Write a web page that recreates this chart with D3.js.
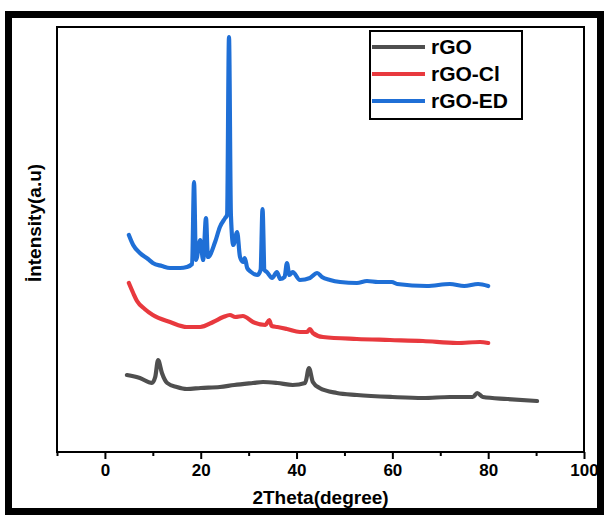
<!DOCTYPE html>
<html lang="en">
<head>
<meta charset="utf-8">
<script src="https://cdn.jsdelivr.net/npm/d3@7"></script>
<style>
  body { margin: 0; background: #fff; }
  text { font-family: "Liberation Sans", Arial, sans-serif; font-weight: bold; }
</style>
</head>
<body>
<svg id="chart" width="608" height="515"></svg>
<script>
"use strict";

// 2theta (degree), intensity (a.u.)
const rGO = [[4.6,77],[7.3,74],[9.8,69],[10.5,75],[11.1,92],[11.9,79],[13,69],[15,65],[17.1,63],
  [20,64],[24,65],[27,67],[30.9,69],[33,70],[36,69],[39.2,67],[41.8,69],[42.6,84],[43.4,70],
  [44.8,64],[48.4,59],[52.6,57],[60,55],[66.4,54],[72,55],[76.8,55],[77.7,59],[78.9,55],
  [84,53],[90.2,51]];

const rGOCl = [[5,169],[5.9,159],[6.7,151],[8.3,143],[10,137],[13.6,130],[17.1,125],[19.9,125],
  [22.6,130],[24.7,135],[26.1,137],[27.2,135],[28.8,136],[30.9,130],[33.5,127],[34.3,132],
  [34.8,126],[36,125],[38,123],[40.7,120],[42.2,120],[42.8,123],[43.4,119],[45.5,115],
  [52.6,113],[59.5,112],[66.4,111],[73.5,109],[78.3,110],[80,109]];

const rGOED = [[5,217],[5.9,207],[7.3,199],[9,193],[10,189],[11.9,186],[13.6,184],[15.7,184],
  [17.1,185],[18.2,188],[18.6,270],[19,192],[19.9,212],[20.5,192],[21.1,234],[21.5,195],
  [23,210],[24,225],[25.1,234],[25.5,237],[25.9,415],[26.3,237],[26.8,207],[27.6,220],
  [28.2,195],[28.8,190],[29.2,194],[29.7,184],[30.5,180],[31.8,177],[32.5,182],[32.9,243],
  [33.3,182],[33.8,180],[34.9,174],[35.9,180],[36.6,173],[37.5,175],[38,189],[38.5,177],
  [39.2,180],[40.7,172],[42.8,174],[44.3,179],[45.3,175],[47,172],[49.1,170],[52.6,169],
  [54.7,171],[57,170],[59.9,170],[61,168],[67.2,166],[72,168],[75,166],[77.9,168],[80,166]];

const seriesNames = ["rGO", "rGO-Cl", "rGO-ED"];
const seriesColors = ["#4f4f4f", "#e8393e", "#1f6fd6"];
const seriesData = [rGO, rGOCl, rGOED];

const majorTicks = [0, 20, 40, 60, 80, 100];
const minorTicks = [-10, 10, 30, 50, 70, 90];

const svg = d3.select("#chart");
const plotL = 57, plotR = 584, plotT = 27, plotB = 452;

const x = d3.scaleLinear().domain([-10, 100]).range([plotL, plotR]);
const y = d3.scaleLinear().domain([0, 425]).range([plotB, plotT]);

// outer frame
svg.append("rect").attr("x", 8.5).attr("y", 14.5).attr("width", 592).attr("height", 497)
  .attr("fill", "none").attr("stroke", "#000").attr("stroke-width", 7);

// curves
const line = d3.line().curve(d3.curveMonotoneX).x(d => x(d[0])).y(d => y(d[1]));
seriesData.forEach((data, i) => {
  svg.append("path").datum(data).attr("d", line)
    .attr("fill", "none").attr("stroke", seriesColors[i])
    .attr("stroke-width", 4.2).attr("stroke-linejoin", "round").attr("stroke-linecap", "round");
});

// plot box
svg.append("rect").attr("x", plotL).attr("y", plotT).attr("width", plotR - plotL).attr("height", plotB - plotT)
  .attr("fill", "none").attr("stroke", "#000").attr("stroke-width", 2);

// x axis
const ax = svg.append("g").attr("transform", `translate(0,${plotB})`)
  .call(d3.axisBottom(x).tickValues(majorTicks).tickSize(7).tickPadding(5).tickFormat(d3.format("d")));
ax.select(".domain").remove();
ax.selectAll(".tick line").attr("stroke-width", 2);
ax.selectAll(".tick text").attr("font-size", 17).attr("font-family", null).attr("fill", "#000");

const axm = svg.append("g").attr("transform", `translate(0,${plotB})`)
  .call(d3.axisBottom(x).tickValues(minorTicks).tickSize(4).tickFormat(""));
axm.select(".domain").remove();
axm.selectAll(".tick line").attr("stroke-width", 2);

// axis titles
svg.append("text").attr("x", (plotL + plotR) / 2).attr("y", 504).attr("text-anchor", "middle")
  .attr("font-size", 19).text("2Theta(degree)");
svg.append("text").attr("transform", "translate(41,223) rotate(-90)").attr("text-anchor", "middle")
  .attr("font-size", 19).text("İntensity(a.u)");

// legend
const lg = svg.append("g");
lg.append("rect").attr("x", 370).attr("y", 31).attr("width", 152).attr("height", 88)
  .attr("fill", "#fff").attr("stroke", "#000").attr("stroke-width", 2);
seriesNames.forEach((name, i) => {
  const ly = 47 + i * 27;
  lg.append("line").attr("x1", 372).attr("x2", 425).attr("y1", ly).attr("y2", ly)
    .attr("stroke", seriesColors[i]).attr("stroke-width", 4);
  lg.append("text").attr("x", 431).attr("y", ly + 7).attr("font-size", 21).text(name);
});
</script>
</body>
</html>
